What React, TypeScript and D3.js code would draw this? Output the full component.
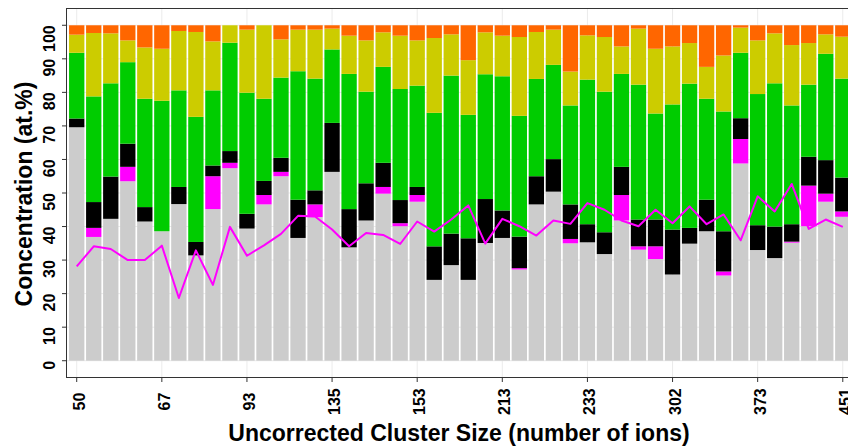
import React from "react";
import * as d3 from "d3";

// Cluster-size labels shown on the x axis (every fifth cluster)
const sizeTicks = ["50", "67", "93", "135", "153", "213", "233", "302", "373", "451"];
const tickEvery = 5;

// Composition of each cluster (at.%), stacked bottom to top
const greyPart = [69.6, 36.9, 42.3, 53.5, 41.5, 38.6, 46.7, 31.4, 45.2, 57.4, 39.4, 46.6, 55.0, 36.6, 42.8, 56.3, 33.8, 41.8, 49.8, 40.1, 47.4, 24.1, 28.5, 24.1, 35.1, 36.6, 27.2, 46.6, 50.4, 35.0, 35.3, 31.8, 41.8, 33.1, 30.3, 25.7, 34.9, 38.6, 25.4, 58.8, 33.0, 30.6, 35.2, 40.1, 47.4, 42.9];
const magentaPart = [0, 2.7, 0, 4.3, 0, 0, 0, 0, 9.8, 1.6, 0, 2.8, 1.3, 0, 3.8, 0, 0, 0, 2.0, 0.9, 2.0, 0, 0, 0, 0, 0, 0.4, 0, 0, 1.3, 0, 0, 7.6, 1.0, 3.8, 0, 0, 0, 1.2, 7.3, 0, 0, 0.3, 12.1, 2.4, 1.6];
const blackPart = [2.6, 7.7, 12.6, 6.9, 4.3, 0, 5.1, 4.0, 3.2, 3.5, 4.4, 4.2, 4.2, 11.4, 4.2, 14.6, 11.4, 11.1, 7.2, 6.9, 2.4, 10.0, 9.4, 12.4, 13.1, 8.2, 9.4, 8.4, 9.7, 10.3, 5.4, 6.5, 8.4, 8.0, 8.0, 13.4, 4.7, 9.4, 12.0, 6.2, 7.4, 9.4, 5.2, 8.6, 10.0, 10.1];
const greenPart = [19.6, 31.5, 27.8, 24.3, 32.3, 38.9, 28.8, 37.3, 22.4, 32.3, 36.1, 24.5, 23.9, 38.3, 33.3, 21.9, 40.3, 27.3, 28.6, 33.1, 30.2, 39.8, 47.1, 36.8, 37.2, 40.0, 36.0, 29.0, 28.1, 29.5, 43.1, 41.9, 27.7, 40.2, 31.6, 37.3, 43.0, 30.1, 35.7, 19.5, 39.1, 42.7, 35.4, 21.5, 31.7, 29.5];
const yellowPart = [5.4, 18.9, 14.9, 6.5, 15.3, 15.5, 17.7, 25.3, 14.6, 5.2, 18.8, 21.9, 11.4, 12.4, 14.6, 6.2, 11.4, 15.3, 10.3, 15.9, 13.5, 22.3, 12.3, 16.3, 12.5, 12.1, 23.5, 14.0, 10.5, 10.1, 13.2, 16.3, 8.2, 16.7, 19.3, 17.3, 12.1, 9.5, 16.7, 7.5, 16.0, 14.9, 18.0, 12.4, 5.8, 12.5];
const orangePart = [2.8, 2.3, 2.4, 4.5, 6.6, 7.0, 1.7, 2.0, 4.8, 0, 1.3, 0, 4.2, 1.3, 1.3, 1.0, 3.1, 4.5, 2.1, 3.1, 4.5, 3.8, 2.7, 10.4, 2.1, 3.1, 3.5, 2.0, 1.3, 13.8, 3.0, 3.5, 6.3, 1.0, 7.0, 6.3, 5.3, 12.4, 9.0, 0.7, 4.5, 2.4, 5.9, 5.3, 2.7, 3.4];

// Overlay line (at.%)
const linePart = [28.1, 34.1, 33.3, 30.0, 30.0, 34.3, 18.7, 32.9, 22.6, 39.9, 31.3, 34.4, 37.8, 43.2, 43.0, 39.1, 34.1, 38.1, 37.5, 34.8, 41.5, 38.5, 42.1, 46.3, 34.9, 42.3, 40.1, 37.3, 41.8, 40.8, 47.0, 45.0, 41.8, 40.1, 45.0, 41.0, 46.0, 40.7, 43.6, 35.9, 49.0, 44.5, 52.7, 39.3, 42.1, 39.9];

const yTicks = [0, 10, 20, 30, 40, 50, 60, 70, 80, 90, 100];

const keys = ["grey", "magenta", "black", "green", "yellow", "orange"];
const colors: Record<string, string> = {
  grey: "#cccccc",
  magenta: "#ff00ff",
  black: "#000000",
  green: "#00cc00",
  yellow: "#cccc00",
  orange: "#ff6600",
};

const W = 848;
const H = 446;
const left = 66.5;
const right = 853;
const top = 8.5;
const bottom = 377.5;
const FONT = "'Liberation Sans', Arial, Helvetica, sans-serif";

export default function App() {
  const rows = greyPart.map((_, i) => ({
    idx: i,
    grey: greyPart[i],
    magenta: magentaPart[i],
    black: blackPart[i],
    green: greenPart[i],
    yellow: yellowPart[i],
    orange: orangePart[i],
  }));

  const x = d3
    .scaleBand<number>()
    .domain(rows.map((r) => r.idx))
    .range([left, right])
    .paddingInner(0.1)
    .paddingOuter(0.15);
  const y = d3.scaleLinear().domain([-5, 105]).range([bottom, top]);

  const stacked = d3.stack<any>().keys(keys)(rows);
  const cx = (i: number) => (x(i) as number) + x.bandwidth() / 2;

  const line = d3
    .line<number>()
    .x((_, i) => cx(i))
    .y((d) => y(d));

  const tickIdx = sizeTicks.map((_, k) => k * tickEvery);

  return (
    <svg
      width={W}
      height={H}
      style={{ position: "absolute", left: 0, top: 0, display: "block", background: "#fff" }}
    >
      <rect x={0} y={0} width={W} height={H} fill="#fff" />
      {/* grid */}
      <g stroke="#ebebeb" strokeWidth={1}>
        {yTicks.map((t) => (
          <line key={"gy" + t} x1={left} x2={right} y1={y(t)} y2={y(t)} />
        ))}
        {tickIdx.map((i) => (
          <line key={"gx" + i} x1={cx(i)} x2={cx(i)} y1={top} y2={bottom} />
        ))}
      </g>
      {/* stacked bars */}
      {stacked.map((s) => (
        <g key={s.key} fill={colors[s.key]}>
          {s.map((d, i) =>
            d[1] - d[0] > 0 ? (
              <rect
                key={i}
                x={x(i) as number}
                width={x.bandwidth()}
                y={y(d[1])}
                height={y(d[0]) - y(d[1])}
              />
            ) : null
          )}
        </g>
      ))}
      {/* overlay line */}
      <path d={line(linePart) || ""} fill="none" stroke="#ff00ff" strokeWidth={2} strokeLinejoin="round" />
      {/* panel border */}
      <rect x={left} y={top} width={right - left} height={bottom - top} fill="none" stroke="#333333" strokeWidth={1} />
      {/* y axis */}
      <g>
        {yTicks.map((t) => (
          <g key={"yt" + t}>
            <line x1={left - 4.5} x2={left} y1={y(t)} y2={y(t)} stroke="#333333" />
            <text
              transform={`translate(55,${y(t)}) rotate(-90)`}
              textAnchor="end"
              fontFamily={FONT}
              fontWeight="bold"
              fontSize={16}
              fill="#000"
            >
              {t}
            </text>
          </g>
        ))}
      </g>
      {/* x axis */}
      <g>
        {tickIdx.map((i, k) => (
          <g key={"xt" + i}>
            <line x1={cx(i)} x2={cx(i)} y1={bottom} y2={bottom + 4.5} stroke="#333333" />
            <text
              transform={`translate(${cx(i) + 8},401.6) rotate(-90)`}
              textAnchor="middle"
              fontFamily={FONT}
              fontWeight="bold"
              fontSize={16}
              fill="#000"
            >
              {sizeTicks[k]}
            </text>
          </g>
        ))}
      </g>
      {/* axis titles */}
      <text
        x={459}
        y={441}
        textAnchor="middle"
        fontFamily={FONT}
        fontWeight="bold"
        fontSize={23}
        fill="#000"
      >
        Uncorrected Cluster Size (number of ions)
      </text>
      <text
        transform={`translate(32,194) rotate(-90)`}
        textAnchor="middle"
        fontFamily={FONT}
        fontWeight="bold"
        fontSize={23}
        fill="#000"
      >
        Concentration (at.%)
      </text>
    </svg>
  );
}
